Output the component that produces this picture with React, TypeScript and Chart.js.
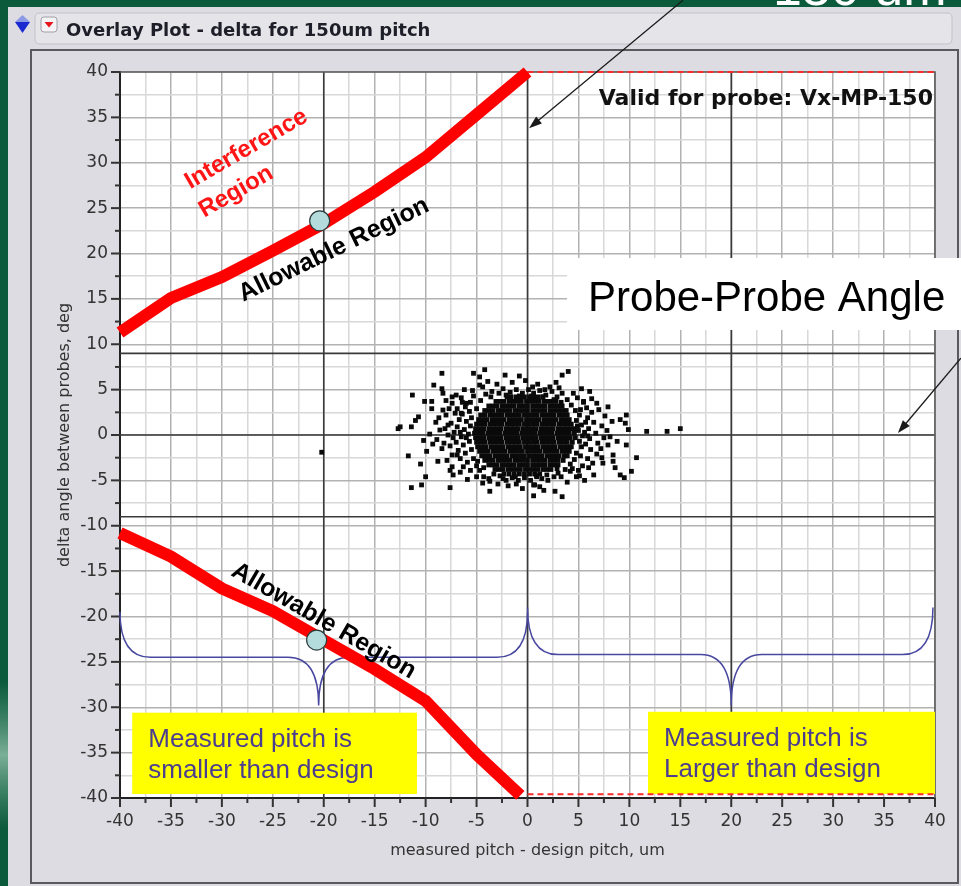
import React, { useEffect, useRef } from 'react';
import { Chart, registerables } from 'chart.js';

Chart.register(...registerables);

// ---------------- data ----------------
const xRange = [-40, 40];
const yRange = [-40, 40];
const tickStep = 2.5;
const labelStep = 5;

const upperLimitX = [-40, -35, -30, -25, -20, -15, -10, -5, 0];
const upperLimitY = [11.3, 15.1, 17.4, 20.3, 23.3, 26.8, 30.6, 35.3, 40];
const lowerLimitX = [-40, -35, -30, -25, -20, -15, -10, -5, -0.7];
const lowerLimitY = [-10.8, -13.4, -16.9, -19.4, -22.6, -25.8, -29.3, -35.2, -39.7];

const validRangeX = [0, 40];
const validTopY = 40;
const validBottomY = -39.6;

const designPointX = [-20.4, -20.7];
const designPointY = [23.6, -22.6];

const refLinesX = [-20, 0, 20];
const refLinesY = [0, 9, -9];

// curly braces: start, end, centre, tip level, mid level, point level
const braceStart = [-40, 0];
const braceEnd = [0, 39.8];
const braceCenter = [-20.5, 20];
const braceTipY = [-19.5, -19];
const braceMidY = [-24.5, -24.2];
const bracePointY = [-29.8, -29.8];

// dense core of the measurement cloud (row level, x values)
const cloudRowY = [4.2, 3.7, 3.2, 2.7, 2.2, 1.7, 1.2, 0.7, 0.2, -0.3, -0.8, -1.3, -1.8, -2.3, -2.8, -3.3, -3.8, -4.3];
const cloudRowX = [
  [-2.0, -1.6, -1.1, -0.7, -0.3, 0.2, 0.6, 1.0, 1.5],
  [-3.1, -2.7, -2.3, -1.8, -1.4, -1.0, -0.6, -0.1, 0.3, 0.7, 1.1, 1.6, 2.0, 2.4, 2.8],
  [-3.8, -3.4, -3.0, -2.5, -2.1, -1.7, -1.3, -0.8, -0.4, 0.0, 0.5, 0.9, 1.3, 1.7, 2.2, 2.6, 3.0, 3.4],
  [-4.2, -3.8, -3.4, -2.9, -2.5, -2.1, -1.7, -1.2, -0.8, -0.4, 0.0, 0.5, 0.9, 1.3, 1.7, 2.2, 2.6, 3.0, 3.4, 3.8],
  [-4.6, -4.2, -3.7, -3.3, -2.9, -2.5, -2.0, -1.6, -1.2, -0.8, -0.3, 0.1, 0.5, 0.9, 1.4, 1.8, 2.2, 2.6, 3.1, 3.5, 3.9],
  [-4.8, -4.4, -4.0, -3.5, -3.1, -2.7, -2.3, -1.8, -1.4, -1.0, -0.6, -0.1, 0.3, 0.7, 1.1, 1.6, 2.0, 2.4, 2.8, 3.3, 3.7, 4.1],
  [-5.0, -4.6, -4.2, -3.7, -3.3, -2.9, -2.5, -2.0, -1.6, -1.2, -0.8, -0.3, 0.1, 0.5, 0.9, 1.4, 1.8, 2.2, 2.6, 3.1, 3.5, 3.9, 4.3],
  [-5.1, -4.7, -4.3, -3.8, -3.4, -3.0, -2.6, -2.1, -1.7, -1.3, -0.9, -0.4, 0.0, 0.4, 0.8, 1.3, 1.7, 2.1, 2.5, 3.0, 3.4, 3.8, 4.2, 4.6],
  [-5.2, -4.8, -4.4, -3.9, -3.5, -3.1, -2.7, -2.2, -1.8, -1.4, -1.0, -0.5, -0.1, 0.3, 0.7, 1.2, 1.6, 2.0, 2.4, 2.9, 3.3, 3.7, 4.1, 4.6],
  [-5.1, -4.7, -4.3, -3.8, -3.4, -3.0, -2.6, -2.1, -1.7, -1.3, -0.9, -0.4, 0.0, 0.4, 0.8, 1.3, 1.7, 2.1, 2.5, 3.0, 3.4, 3.8, 4.2, 4.7],
  [-5.0, -4.6, -4.2, -3.7, -3.3, -2.9, -2.5, -2.0, -1.6, -1.2, -0.8, -0.3, 0.1, 0.5, 0.9, 1.4, 1.8, 2.2, 2.6, 3.1, 3.5, 3.9, 4.4],
  [-4.9, -4.5, -4.1, -3.6, -3.2, -2.8, -2.4, -1.9, -1.5, -1.1, -0.7, -0.2, 0.2, 0.6, 1.0, 1.5, 1.9, 2.3, 2.7, 3.2, 3.6, 4.0, 4.3],
  [-4.7, -4.3, -3.9, -3.4, -3.0, -2.6, -2.2, -1.7, -1.3, -0.9, -0.5, 0.0, 0.4, 0.8, 1.2, 1.7, 2.1, 2.5, 2.9, 3.4, 3.8, 4.1],
  [-4.5, -4.1, -3.7, -3.2, -2.8, -2.4, -2.0, -1.5, -1.1, -0.7, -0.3, 0.2, 0.6, 1.0, 1.4, 1.9, 2.3, 2.7, 3.1, 3.6, 3.9],
  [-4.2, -3.8, -3.4, -2.9, -2.5, -2.1, -1.7, -1.2, -0.8, -0.4, 0.0, 0.5, 0.9, 1.3, 1.7, 2.2, 2.6, 3.0, 3.5],
  [-3.8, -3.4, -3.0, -2.5, -2.1, -1.7, -1.3, -0.8, -0.4, 0.0, 0.5, 0.9, 1.3, 1.7, 2.2, 2.6, 3.0],
  [-3.2, -2.8, -2.4, -1.9, -1.5, -1.1, -0.7, -0.2, 0.2, 0.6, 1.0, 1.5, 1.9, 2.3],
  [-2.3, -1.8, -1.3, -0.8, -0.3, 0.2, 0.7, 1.2],
];

// sparser halo and outliers of the cloud
const cloudHalo = [
  [-5.6, 3.6], [-6.1, 3.1], [-5.7, 2.6], [-6.4, 2.3], [-5.5, 1.9], [-6.0, 1.5], [-6.7, 1.7], [-5.6, 1.0], [-6.2, 0.6],
  [-6.9, 0.9], [-5.8, 0.1], [-6.5, -0.2], [-7.2, 0.3], [-5.7, -0.7], [-6.3, -1.1], [-7.0, -0.8], [-5.5, -1.6], [-6.1, -2.0],
  [-6.8, -1.7], [-5.3, -2.6], [-5.9, -3.0], [-6.6, -2.6], [-5.0, -3.4], [-5.6, -3.9], [-4.7, -3.9], [-4.3, -4.6], [-7.4, -2.2],
  [-7.6, -1.2], [-7.8, 0.0], [-7.5, 1.3], [-7.1, 2.4], [-7.4, 3.5], [-6.5, 4.1], [-5.3, 4.3], [-4.6, 3.8], [-5.0, 2.9],
  [-4.9, -2.9], [-6.0, -0.3], [-6.6, 0.3], [-7.3, -0.3], [-6.9, -2.2], [-6.4, 3.6], [-8.2, -0.9], [-8.0, 2.2], [-7.7, 2.9],
  [-4.1, 4.5], [-3.5, 4.8], [-2.8, 4.6], [-2.4, 5.1], [-1.7, 4.7], [-1.1, 5.0], [-0.5, 4.6], [0.1, 5.0], [0.6, 4.6],
  [1.2, 4.9], [1.8, 4.4], [2.4, 4.8], [2.9, 4.2], [3.4, 4.6], [3.9, 3.9], [-3.6, 4.2], [-2.1, 4.4], [-0.8, 4.3],
  [0.4, 4.3], [1.5, 4.2], [2.6, 3.9], [3.3, 3.6],
  [4.3, 3.3], [4.7, 2.7], [5.1, 2.2], [4.8, 1.6], [5.3, 1.1], [5.0, 0.5], [5.4, -0.1], [5.1, -0.7], [5.3, -1.3],
  [4.8, -2.0], [4.6, -2.7], [4.2, -3.2], [5.8, 3.0], [6.3, 2.5], [5.9, 1.9], [6.5, 1.4], [6.0, 0.7], [6.7, 0.2],
  [6.1, -0.4], [6.9, -0.9], [6.2, -1.6], [6.8, -2.1], [5.9, -2.6], [6.4, -3.1], [5.4, -3.4], [5.0, -3.9], [7.3, 1.0],
  [7.5, -0.3], [7.2, -1.5], [7.6, 2.1], [7.0, 2.8], [5.5, 3.6], [4.9, 4.1], [5.7, -1.0], [5.6, 0.3], [5.7, 1.4],
  [5.2, 2.8], [4.4, -3.7], [5.2, -2.3], [4.9, 1.0], [5.9, -0.1],
  [3.7, -3.8], [3.0, -4.2], [2.6, -4.6], [1.9, -4.4], [1.4, -4.8], [0.9, -4.5], [0.3, -5.0], [-0.3, -4.7], [-0.9, -5.0],
  [-1.5, -4.7], [-2.1, -5.0], [-2.7, -4.5], [-3.3, -4.3], [-3.8, -4.8], [2.9, -3.7], [3.3, -4.6], [-4.3, -3.6],
  [-8.4, 6.8], [-5.3, 6.8], [-4.7, 6.4], [-4.2, 7.2], [-4.7, 5.5], [-2.2, 6.6], [-0.8, 6.5], [3.4, 6.6], [4.0, 7.0],
  [-8.4, 5.1], [-8.3, 4.6], [-11.3, 4.4], [-10.1, 3.7], [-9.4, 3.7], [-9.4, 2.9], [-10.7, 2.0], [-11.4, 0.9], [-12.7, 0.7],
  [-12.5, 0.9], [-10.2, -0.6], [-11.7, -2.3], [-10.5, -3.2], [-11.4, -5.8], [-10.4, -5.5], [-7.6, -5.8], [-8.4, -1.5],
  [-8.6, 0.55], [-8.1, 0.7], [-7.8, 1.1], [-8.3, 2.75], [-7.4, 4.2], [-6.9, 2.9], [-6.0, 3.5], [-6.5, 2.4], [-7.6, -3.9],
  [-7.3, -4.4], [-7.4, -3.5], [-5.0, -4.6], [-3.7, -5.1], [-3.7, -6.2], [-2.4, -4.8], [-1.2, -4.6], [0.6, -5.5], [0.9, -4.6],
  [0.6, -6.7], [5.3, 5.1], [6.1, 4.8], [5.5, 3.7], [6.3, 4.0], [7.9, 3.1], [9.7, 2.2], [9.1, 1.7], [9.6, 1.3], [9.9, 0.6],
  [8.1, -0.2], [8.8, -0.7], [9.7, -1.1], [8.4, -2.2], [10.7, -2.5], [7.4, -3.1], [8.4, -2.9], [10.2, -4.0], [9.1, -4.4],
  [9.5, -4.7], [6.5, -4.4], [5.6, -5.0], [4.8, -4.6], [4.2, -4.0], [2.7, -6.2], [3.4, -6.8], [1.2, -5.7], [0.7, -5.5],
  [2.0, -5.0], [11.7, 0.4], [13.7, 0.4], [15.0, 0.7], [-20.2, -1.9],
  [-9.0, 1.4], [-8.9, -0.5], [-9.3, -1.0], [-8.8, -2.9], [-9.6, 0.1], [-6.2, 5.0], [-7.0, 4.4], [-3.0, 5.6], [-1.5, 5.8],
  [1.0, 5.6], [2.2, 5.3], [-0.2, 6.0], [2.8, 5.8], [-1.9, -5.6], [-0.5, -5.9], [1.6, -6.1], [-2.9, -5.4], [-5.9, -4.9],
  [-6.6, -4.1], [7.8, 0.5], [8.3, 1.5], [7.3, -2.5], [8.6, -3.6], [-11.0, 1.6], [-9.9, -1.8], [-10.0, -4.6], [-9.2, 5.5],
  [-5.4, 4.9], [-4.4, 5.3], [-3.9, 5.9], [0.5, 5.3], [1.7, 5.0], [3.1, 5.2], [4.5, 4.6], [6.8, 3.5], [7.9, -1.1],
  [6.0, -3.6], [5.1, -4.5], [3.9, -5.2], [-1.1, -5.4], [-4.4, -5.3], [-6.3, -3.5], [-7.9, -2.8], [-8.7, 1.9], [-8.0, 3.8],
];

// ---------------- annotation texts ----------------
const SANS = "'Liberation Sans', Arial, Helvetica, sans-serif";
const JMP = "'DejaVu Sans', Verdana, sans-serif";

const regionLabels = [
  { text: 'Interference', x: -27.6, y: 31.5, angle: -30, color: '#ff1515', font: `bold 24px ${SANS}` },
  { text: 'Region', x: -28.6, y: 26.8, angle: -30, color: '#ff1515', font: `bold 24px ${SANS}` },
  { text: 'Allowable Region', x: -19.0, y: 20.4, angle: -26, color: '#000000', font: `bold 25px ${SANS}` },
  { text: 'Allowable Region', x: -20.0, y: -20.5, angle: 30, color: '#000000', font: `bold 25px ${SANS}` },
];

const noteBoxes = [
  { x0: -38.8, x1: -10.85, y0: -30.6, y1: -39.56, lines: ['Measured pitch is', 'smaller than design'] },
  { x0: 11.83, x1: 40, y0: -30.5, y1: -39.56, lines: ['Measured pitch is', 'Larger than design'] },
];

const arrows = [
  { fromX: 15.26, fromY: 47.9, toX: 0.15, toY: 33.8 },
  { fromX: 42.54, fromY: 8.48, toX: 36.36, toY: 0.22 },
];

const isMajor = (v: number) => Math.abs(v % labelStep) < 1e-6;

function roundRectPath(ctx: CanvasRenderingContext2D, x: number, y: number, w: number, h: number, r: number) {
  ctx.beginPath();
  ctx.moveTo(x + r, y);
  ctx.lineTo(x + w - r, y);
  ctx.quadraticCurveTo(x + w, y, x + w, y + r);
  ctx.lineTo(x + w, y + h - r);
  ctx.quadraticCurveTo(x + w, y + h, x + w - r, y + h);
  ctx.lineTo(x + r, y + h);
  ctx.quadraticCurveTo(x, y + h, x, y + h - r);
  ctx.lineTo(x, y + r);
  ctx.quadraticCurveTo(x, y, x + r, y);
  ctx.closePath();
}

const decorPlugin = {
  id: 'decor',
  beforeDraw(chart: any) {
    const { ctx, width, height, chartArea: a } = chart;
    ctx.save();
    ctx.fillStyle = '#0b5a3c';
    ctx.fillRect(0, 0, width, height);
    const g = ctx.createLinearGradient(0, 680, 0, 830);
    g.addColorStop(0, 'rgba(120,180,150,0)');
    g.addColorStop(0.5, 'rgba(170,210,190,0.7)');
    g.addColorStop(1, 'rgba(120,180,150,0)');
    ctx.fillStyle = g;
    ctx.fillRect(0, 680, 8, 150);
    ctx.fillStyle = '#ffffff';
    ctx.font = `52px ${SANS}`;
    ctx.textBaseline = 'alphabetic';
    ctx.textAlign = 'left';
    ctx.fillText('150 um', 773, 5);
    // panel
    ctx.fillStyle = '#dcdce2';
    ctx.fillRect(8, 7, width - 8, height - 7);
    // title bar
    roundRectPath(ctx, 35, 13, 917, 31, 5);
    ctx.fillStyle = '#e4e4e9';
    ctx.fill();
    ctx.strokeStyle = '#c2c2ca';
    ctx.lineWidth = 1;
    ctx.stroke();
    // icons
    ctx.fillStyle = '#8c9ae6';
    ctx.beginPath();
    ctx.moveTo(22.5, 15); ctx.lineTo(30, 22); ctx.lineTo(15, 22); ctx.closePath(); ctx.fill();
    ctx.fillStyle = '#1a2ad0';
    ctx.beginPath();
    ctx.moveTo(15, 22); ctx.lineTo(30, 22); ctx.lineTo(22.5, 33); ctx.closePath(); ctx.fill();
    roundRectPath(ctx, 41, 17, 16, 15, 3);
    ctx.fillStyle = '#f4f4f6'; ctx.fill();
    ctx.strokeStyle = '#a0a0a8'; ctx.stroke();
    ctx.fillStyle = '#e8141c';
    ctx.beginPath();
    ctx.moveTo(44.5, 22); ctx.lineTo(53.5, 22); ctx.lineTo(49, 27.5); ctx.closePath(); ctx.fill();
    // title
    ctx.fillStyle = '#1e1e28';
    ctx.font = `bold 18px ${JMP}`;
    ctx.fillText('Overlay Plot - delta for 150um pitch', 66, 36);
    // frame
    ctx.strokeStyle = '#5a5a5e';
    ctx.lineWidth = 2;
    ctx.strokeRect(31, 50, 927, 833);
    // plot background
    ctx.fillStyle = '#ffffff';
    ctx.fillRect(a.left, a.top, a.right - a.left, a.bottom - a.top);
    ctx.restore();
  },
  beforeDatasetsDraw(chart: any) {
    const { ctx, chartArea: a, scales } = chart;
    const sx = scales.x, sy = scales.y;
    const px = (v: number) => sx.getPixelForValue(v);
    const py = (v: number) => sy.getPixelForValue(v);
    ctx.save();
    // reference lines
    ctx.strokeStyle = '#3a3a3a';
    ctx.lineWidth = 1.6;
    refLinesX.forEach((v) => {
      ctx.beginPath(); ctx.moveTo(px(v), a.top); ctx.lineTo(px(v), a.bottom); ctx.stroke();
    });
    refLinesY.forEach((v) => {
      ctx.beginPath(); ctx.moveTo(a.left, py(v)); ctx.lineTo(a.right, py(v)); ctx.stroke();
    });
    // top / right frame of plot
    ctx.strokeStyle = '#5c5c5c';
    ctx.lineWidth = 1.6;
    ctx.beginPath();
    ctx.moveTo(a.left, a.top); ctx.lineTo(a.right, a.top); ctx.lineTo(a.right, a.bottom);
    ctx.stroke();
    // tick marks
    ctx.strokeStyle = '#333';
    ctx.lineWidth = 2;
    sx.ticks.forEach((t: any) => {
      const len = isMajor(t.value) ? 9 : 5;
      const x = px(t.value);
      ctx.beginPath(); ctx.moveTo(x, a.bottom); ctx.lineTo(x, a.bottom + len); ctx.stroke();
    });
    sy.ticks.forEach((t: any) => {
      const len = isMajor(t.value) ? 9 : 5;
      const y = py(t.value);
      ctx.beginPath(); ctx.moveTo(a.left - len, y); ctx.lineTo(a.left, y); ctx.stroke();
    });
    // braces
    ctx.strokeStyle = '#4848a0';
    ctx.lineWidth = 1.5;
    braceStart.forEach((x0, i) => {
      const x1 = braceEnd[i], xc = braceCenter[i];
      const yt = py(braceTipY[i]), ym = py(braceMidY[i]), yp = py(bracePointY[i]);
      const r = 3;
      ctx.beginPath();
      ctx.moveTo(px(x0), yt);
      ctx.quadraticCurveTo(px(x0), ym, px(x0 + r), ym);
      ctx.lineTo(px(xc - r), ym);
      ctx.quadraticCurveTo(px(xc), ym, px(xc), yp);
      ctx.quadraticCurveTo(px(xc), ym, px(xc + r), ym);
      ctx.lineTo(px(x1 - r), ym);
      ctx.quadraticCurveTo(px(x1), ym, px(x1), yt);
      ctx.stroke();
    });
    // note boxes
    noteBoxes.forEach((b) => {
      const l = px(b.x0), r = px(b.x1), t = py(b.y0), btm = py(b.y1);
      ctx.fillStyle = '#ffff00';
      ctx.fillRect(l, t, r - l, btm - t);
      ctx.fillStyle = '#4b3d8f';
      ctx.font = `26px ${SANS}`;
      ctx.textAlign = 'left';
      ctx.textBaseline = 'alphabetic';
      ctx.fillText(b.lines[0], l + 16, t + 34);
      ctx.fillText(b.lines[1], l + 16, t + 65);
    });
    ctx.restore();
  },
  afterDraw(chart: any) {
    const { ctx, scales } = chart;
    const sx = scales.x, sy = scales.y;
    const px = (v: number) => sx.getPixelForValue(v);
    const py = (v: number) => sy.getPixelForValue(v);
    ctx.save();
    regionLabels.forEach((l) => {
      ctx.save();
      ctx.translate(px(l.x), py(l.y));
      ctx.rotate((l.angle * Math.PI) / 180);
      ctx.font = l.font;
      ctx.fillStyle = l.color;
      ctx.textAlign = 'center';
      ctx.textBaseline = 'middle';
      ctx.fillText(l.text, 0, 0);
      ctx.restore();
    });
    ctx.font = `bold 22px ${JMP}`;
    ctx.fillStyle = '#111';
    ctx.textAlign = 'right';
    ctx.textBaseline = 'alphabetic';
    ctx.fillText('Valid for probe: Vx-MP-150', px(39.8), py(36.4));
    // probe-probe box
    const bl = px(3.88), br = px(42.6), bt = py(19.5), bb = py(11.57);
    ctx.fillStyle = '#ffffff';
    ctx.fillRect(bl, bt, br - bl, bb - bt);
    ctx.fillStyle = '#000';
    ctx.font = `42px ${SANS}`;
    ctx.textAlign = 'left';
    ctx.fillText('Probe-Probe Angle', bl + 21, bt + 53);
    // arrows
    ctx.strokeStyle = '#1a1a1a';
    ctx.fillStyle = '#1a1a1a';
    ctx.lineWidth = 1.3;
    arrows.forEach((ar) => {
      const x1 = px(ar.fromX), y1 = py(ar.fromY), x2 = px(ar.toX), y2 = py(ar.toY);
      const ang = Math.atan2(y2 - y1, x2 - x1);
      const hl = 13, hw = 4.5;
      ctx.beginPath();
      ctx.moveTo(x1, y1);
      ctx.lineTo(x2 - Math.cos(ang) * hl * 0.8, y2 - Math.sin(ang) * hl * 0.8);
      ctx.stroke();
      ctx.beginPath();
      ctx.moveTo(x2, y2);
      ctx.lineTo(x2 - hl * Math.cos(ang) + hw * Math.sin(ang), y2 - hl * Math.sin(ang) - hw * Math.cos(ang));
      ctx.lineTo(x2 - hl * Math.cos(ang) - hw * Math.sin(ang), y2 - hl * Math.sin(ang) + hw * Math.cos(ang));
      ctx.closePath();
      ctx.fill();
    });
    ctx.restore();
  },
};

export default function App() {
  const ref = useRef<HTMLCanvasElement | null>(null);
  useEffect(() => {
    if (!ref.current) return;
    const cloud: { x: number; y: number }[] = [];
    cloudRowY.forEach((y, i) => cloudRowX[i].forEach((x) => cloud.push({ x, y })));
    cloudHalo.forEach(([x, y]) => cloud.push({ x, y }));
    const tickFont = { family: JMP, size: 17 };
    const gridColor = (c: any) => (c.tick && isMajor(c.tick.value) ? '#b2b2b2' : '#d8d8d8');
    const chart = new Chart(ref.current, {
      type: 'scatter',
      data: {
        datasets: [
          {
            label: 'design points',
            data: designPointX.map((x, i) => ({ x, y: designPointY[i] })),
            pointStyle: 'circle',
            pointRadius: 10,
            backgroundColor: '#b4dcdc',
            borderColor: '#2c3a3a',
            borderWidth: 1.2,
            order: 0,
          },
          {
            label: 'upper limit',
            data: upperLimitX.map((x, i) => ({ x, y: upperLimitY[i] })),
            showLine: true,
            borderColor: '#ff0000',
            borderWidth: 12,
            pointRadius: 0,
            clip: 10,
            order: 1,
          },
          {
            label: 'lower limit',
            data: lowerLimitX.map((x, i) => ({ x, y: lowerLimitY[i] })),
            showLine: true,
            borderColor: '#ff0000',
            borderWidth: 12,
            pointRadius: 0,
            clip: 10,
            order: 1,
          },
          {
            label: 'valid top',
            data: validRangeX.map((x) => ({ x, y: validTopY })),
            showLine: true,
            borderColor: '#ff2a2a',
            borderWidth: 2,
            borderDash: [6, 4],
            pointRadius: 0,
            clip: 4,
            order: 2,
          },
          {
            label: 'valid bottom',
            data: validRangeX.map((x) => ({ x, y: validBottomY })),
            showLine: true,
            borderColor: '#ff2a2a',
            borderWidth: 2,
            borderDash: [6, 4],
            pointRadius: 0,
            clip: 4,
            order: 2,
          },
          {
            label: 'delta',
            data: cloud,
            pointStyle: 'rect',
            pointRadius: 3.4,
            backgroundColor: '#0a0a0a',
            borderWidth: 0,
            order: 3,
          },
        ],
      },
      options: {
        animation: false,
        responsive: false,
        devicePixelRatio: 1,
        events: [],
        layout: { padding: { left: 30, top: 72, right: 26, bottom: 20 } },
        plugins: { legend: { display: false }, tooltip: { enabled: false } },
        scales: {
          x: {
            type: 'linear',
            min: xRange[0],
            max: xRange[1],
            afterFit: (s: any) => { s.height = 68; },
            ticks: {
              stepSize: tickStep,
              autoSkip: false,
              maxRotation: 0,
              minRotation: 0,
              padding: 13,
              color: '#333',
              font: tickFont,
              callback: (v: any) => (isMajor(Number(v)) ? String(v) : ''),
            },
            grid: { color: gridColor, lineWidth: 1.5, drawTicks: false },
            border: { color: '#222', width: 2 },
            title: {
              display: true,
              text: 'measured pitch - design pitch, um',
              color: '#333',
              font: { family: JMP, size: 16 },
              padding: { top: 0, bottom: 6 },
            },
          },
          y: {
            type: 'linear',
            min: yRange[0],
            max: yRange[1],
            afterFit: (s: any) => { s.width = 90; },
            ticks: {
              stepSize: tickStep,
              autoSkip: false,
              padding: 12,
              color: '#333',
              font: tickFont,
              callback: (v: any) => (isMajor(Number(v)) ? String(v) : ''),
            },
            grid: { color: gridColor, lineWidth: 1.5, drawTicks: false },
            border: { color: '#222', width: 2 },
            title: {
              display: true,
              text: 'delta angle between probes, deg',
              color: '#333',
              font: { family: JMP, size: 16 },
              padding: { top: 25, bottom: 0 },
            },
          },
        },
      },
      plugins: [decorPlugin],
    } as any);
    return () => chart.destroy();
  }, []);
  return (
    <div style={{ position: 'absolute', left: 0, top: 0, width: 961, height: 886 }}>
      <canvas ref={ref} width={961} height={886} style={{ display: 'block' }} />
    </div>
  );
}
